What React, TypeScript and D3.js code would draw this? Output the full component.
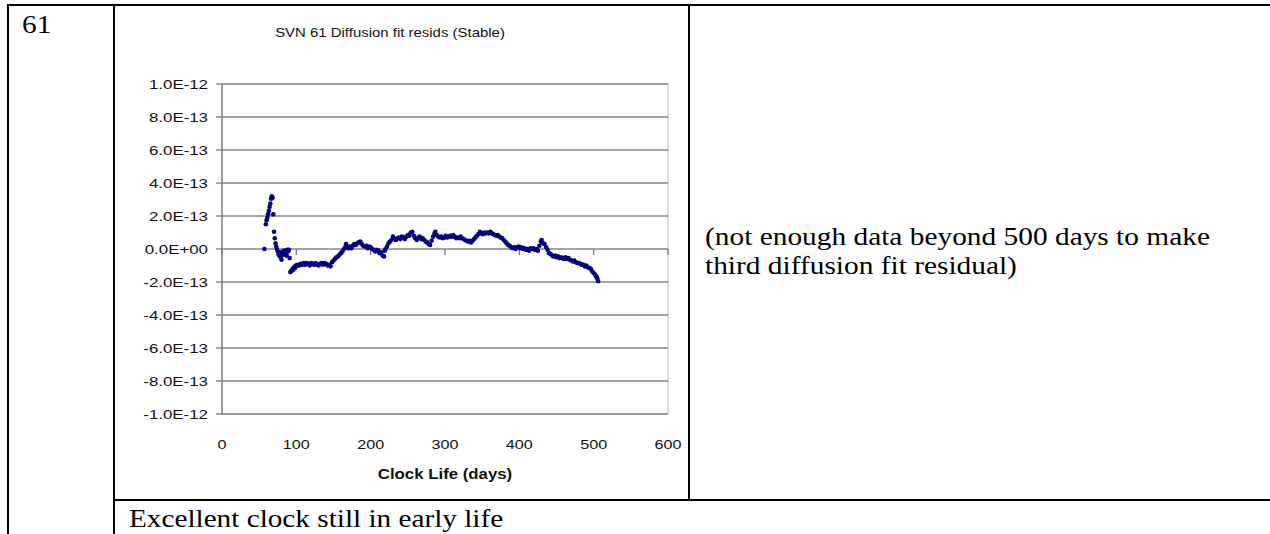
import React from "react";
import * as d3 from "d3";

// ---- data (residuals in units of 1e-13) ----
const days: number[] = [
  57, 59, 60, 61, 62, 63, 64, 65, 66, 67, 68, 69, 70, 71, 72, 73, 74, 75, 76, 77, 78, 79, 80,
  81, 82, 83, 84, 85, 86, 87, 88, 89, 90, 91, 92, 93, 94, 95, 96, 97, 98, 99, 100,
  102, 104, 106, 108, 110, 112, 114, 116, 118, 120, 122, 124, 126, 128, 130, 132, 134, 136, 138, 140,
  142, 144, 146, 148, 150, 152, 154, 156, 158, 160, 162, 164, 166, 167, 168, 170, 172, 174, 176, 178,
  180, 182, 184, 186, 188, 190, 192, 194, 196, 198, 200, 202, 204, 206, 208, 210, 212, 214, 216, 218,
  219, 220, 222, 224, 226, 228, 230, 232, 234, 236, 238, 240, 242, 244, 246, 248, 250, 252, 254, 256,
  258, 260, 262, 264, 266, 268, 270, 272, 274, 276, 278, 280, 282, 284, 286, 287, 289, 291, 293, 295,
  297, 299, 301, 303, 305, 307, 309, 311, 313, 315, 317, 319, 321, 323, 325, 327, 329, 331, 333, 335,
  337, 339, 341, 343, 345, 347, 349, 351, 353, 355, 357, 359, 361, 363, 365, 367, 369, 371, 373, 375,
  377, 379, 381, 383, 385, 387, 389, 391, 393, 395, 397, 399, 401, 403, 405, 407, 409, 411, 413, 415,
  417, 419, 421, 423, 425, 427, 429, 430, 432, 434, 436, 438, 440, 442, 444, 446, 448, 450, 452, 454,
  456, 458, 460, 462, 464, 466, 468, 470, 472, 474, 476, 478, 480, 482, 484, 486, 488, 490, 492, 494,
  496, 498, 500, 502, 503, 504, 505, 506,
];
const residE13: number[] = [
  0.0, 1.5, 1.75, 1.9, 2.1, 2.3, 2.55, 2.75, 3.05, 3.2, 3.1, 2.1, 1.05, 0.65, 0.35, 0.15, 0.0, -0.15, -0.3, -0.4, -0.2, -0.5, -0.65,
  -0.3, -0.15, -0.35, -0.1, -0.25, -0.2, -0.4, -0.05, -0.15, -0.05, -0.55, -1.4, -1.35, -1.3, -1.2, -1.25, -1.1, -1.15, -1.0, -1.05,
  -0.95, -1.0, -0.9, -0.95, -0.85, -0.95, -0.85, -0.9, -1.0, -0.85, -0.9, -0.95, -0.85, -0.95, -1.0, -0.9, -0.85, -0.95, -0.85, -0.9,
  -1.0, -0.95, -1.05, -0.8, -0.7, -0.6, -0.5, -0.45, -0.35, -0.25, -0.15, 0.0, 0.15, 0.3, 0.1, 0.05, 0.15, 0.05, 0.2, 0.3,
  0.25, 0.35, 0.4, 0.45, 0.3, 0.2, 0.15, 0.2, 0.05, 0.15, 0.1, 0.0, -0.05, -0.15, -0.05, -0.1, -0.25, -0.2, -0.4, -0.45,
  -0.1, 0.0, 0.15, 0.35, 0.45, 0.55, 0.75, 0.6, 0.55, 0.65, 0.7, 0.6, 0.75, 0.7, 0.6, 0.75, 0.85, 0.8, 1.0, 1.05,
  0.8, 0.65, 0.55, 0.7, 0.75, 0.6, 0.65, 0.55, 0.45, 0.4, 0.3, 0.25, 0.5, 0.75, 0.95, 1.05, 0.85, 0.75, 0.7, 0.75,
  0.65, 0.7, 0.8, 0.7, 0.75, 0.8, 0.75, 0.85, 0.75, 0.65, 0.7, 0.65, 0.75, 0.65, 0.6, 0.55, 0.5, 0.45, 0.5, 0.4,
  0.5, 0.6, 0.7, 0.8, 0.9, 1.05, 0.95, 0.9, 1.0, 0.95, 1.0, 0.95, 1.05, 0.95, 0.9, 0.85, 0.8, 0.85, 0.75, 0.7,
  0.65, 0.55, 0.45, 0.35, 0.25, 0.2, 0.1, 0.05, 0.1, 0.0, 0.1, 0.15, 0.05, 0.1, 0.0, 0.05, -0.05, 0.0, -0.1, 0.05,
  0.0, 0.05, -0.05, 0.0, -0.1, 0.2, 0.45, 0.55, 0.35, 0.3, 0.1, -0.05, -0.25, -0.3, -0.4, -0.45, -0.4, -0.5, -0.45, -0.55,
  -0.5, -0.55, -0.6, -0.5, -0.6, -0.55, -0.65, -0.7, -0.75, -0.7, -0.8, -0.85, -0.85, -0.9, -0.95, -0.95, -1.05, -1.0, -1.1, -1.15,
  -1.2, -1.35, -1.45, -1.55, -1.65, -1.7, -1.8, -1.95,
];
const xTicks: number[] = [0, 100, 200, 300, 400, 500, 600];
const yTicks: number[] = [1e-12, 8e-13, 6e-13, 4e-13, 2e-13, 0, -2e-13, -4e-13, -6e-13, -8e-13, -1e-12];
const yTickLabels: string[] = [
  "1.0E-12", "8.0E-13", "6.0E-13", "4.0E-13", "2.0E-13", "0.0E+00",
  "-2.0E-13", "-4.0E-13", "-6.0E-13", "-8.0E-13", "-1.0E-12",
];
const chartTitle = "SVN 61 Diffusion fit resids (Stable)";
const xAxisTitle = "Clock Life (days)";
const rowLabel = "61";
const noteLines: string[] = [
  "(not enough data beyond 500 days to make",
  "third diffusion fit residual)",
];
const comment = "Excellent clock still in early life";

const W = 1270;
const H = 534;
const SANS = "'Liberation Sans', Arial, sans-serif";
const SERIF = "'Liberation Serif', 'Times New Roman', serif";

// horizontal stretch helper (the source picture is stretched sideways)
const sx = (ax: number, k: number) => `translate(${ax},0) scale(${k},1) translate(${-ax},0)`;

export default function App() {
  const x = d3.scaleLinear().domain([0, 600]).range([222, 668]);
  const y = d3.scaleLinear().domain([-1e-12, 1e-12]).range([414, 84]);
  const pts = days.map((d, i) => ({ d, v: residE13[i] * 1e-13 }));
  const kChart = 1.2;
  const kDoc = 1.13;

  return (
    <svg
      width={W}
      height={H}
      style={{ position: "absolute", left: 0, top: 0, background: "#fff" }}
    >
      {/* table lines */}
      <g stroke="#000" strokeWidth={2}>
        <line x1={8} y1={5} x2={W} y2={5} />
        <line x1={8} y1={4} x2={8} y2={H} />
        <line x1={114} y1={4} x2={114} y2={H} />
        <line x1={689} y1={4} x2={689} y2={500} />
        <line x1={114} y1={500} x2={W} y2={500} />
      </g>
      <text x={22} y={33} fontFamily={SERIF} fontSize={26} transform={sx(22, kDoc)}>{rowLabel}</text>

      {/* chart title */}
      <text x={390} y={37} fontFamily={SANS} fontSize={13} textAnchor="middle" fill="#111"
        transform={sx(390, 1.15)}>{chartTitle}</text>

      {/* plot area border */}
      <rect x={x(0)} y={y(1e-12)} width={x(600) - x(0)} height={y(-1e-12) - y(1e-12)}
        fill="none" stroke="#c8c8c8" strokeWidth={1.2} />
      {/* gridlines */}
      <g stroke="#868686" strokeWidth={1.6}>
        {yTicks.map((t, i) => (
          <line key={i} x1={x(0)} x2={x(600)} y1={y(t)} y2={y(t)} />
        ))}
      </g>
      {/* axes + ticks */}
      <line x1={x(0)} x2={x(0)} y1={y(1e-12)} y2={y(-1e-12)} stroke="#7a7a7a" strokeWidth={1.3} />
      <g stroke="#7a7a7a" strokeWidth={1.3}>
        {yTicks.map((t, i) => (
          <line key={i} x1={x(0) - 6} x2={x(0)} y1={y(t)} y2={y(t)} />
        ))}
        {xTicks.map((t, i) => (
          <line key={i} x1={x(t)} x2={x(t)} y1={y(0)} y2={y(0) + 6} />
        ))}
      </g>
      {/* y tick labels */}
      <g fontFamily={SANS} fontSize={13.5} fill="#111">
        {yTicks.map((t, i) => (
          <text key={i} x={208} y={y(t) + 5} textAnchor="end" transform={sx(208, 1.25)}>
            {yTickLabels[i]}
          </text>
        ))}
      </g>
      {/* x tick labels */}
      <g fontFamily={SANS} fontSize={13.5} fill="#111" textAnchor="middle">
        {xTicks.map((t, i) => (
          <text key={i} x={x(t)} y={449} transform={sx(x(t), kChart)}>{String(t)}</text>
        ))}
      </g>
      <text x={445} y={479} fontFamily={SANS} fontSize={14} fontWeight="bold" textAnchor="middle" fill="#111"
        transform={sx(445, kChart)}>{xAxisTitle}</text>

      {/* points */}
      <g fill="#000080">
        {pts.map((p, i) => (
          <circle key={i} cx={x(p.d)} cy={y(p.v)} r={2.3} />
        ))}
      </g>

      {/* right note */}
      <g fontFamily={SERIF} fontSize={26} fill="#000">
        {noteLines.map((l, i) => (
          <text key={i} x={705} y={245 + i * 29} transform={sx(705, kDoc)}>{l}</text>
        ))}
      </g>
      <text x={129} y={527} fontFamily={SERIF} fontSize={25} transform={sx(129, 1.17)}>{comment}</text>
    </svg>
  );
}
